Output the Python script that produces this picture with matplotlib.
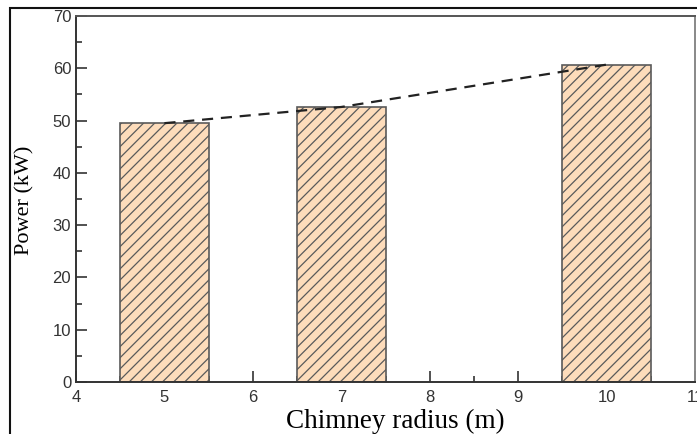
import matplotlib
matplotlib.use("Agg")
import matplotlib.pyplot as plt
from matplotlib.patches import Rectangle
from matplotlib.ticker import MultipleLocator

radius = [5, 7, 10]
power = [49.5, 52.6, 60.7]
xticks = [4, 5, 6, 7, 8, 9, 10, 11]
yticks = [0, 10, 20, 30, 40, 50, 60, 70]

plt.rcParams['hatch.linewidth'] = 0.9

W, H = 697, 434
fig = plt.figure(figsize=(W / 100, H / 100), dpi=100)
ax = fig.add_axes([76 / W, (H - 382) / H, 619 / W, 366 / H])

ax.bar(radius, power, width=1.0, color='#FDDCBB', edgecolor='#5a5a5a',
       linewidth=1.2, hatch='///', zorder=2)
ax.plot(radius, power, linestyle=(0, (5, 3.5)), color='#222222', linewidth=1.6, zorder=3)

ax.set_xlim(4, 11)
ax.set_ylim(0, 70)
ax.set_xticks(xticks)
ax.set_yticks(yticks)
ax.xaxis.set_minor_locator(MultipleLocator(0.5))
ax.yaxis.set_minor_locator(MultipleLocator(5))
ax.tick_params(which='both', direction='in', top=False, right=False,
               color='#333333', width=1.2, labelcolor='#333333',
               labelsize=12, labelfontfamily='Liberation Sans')
ax.tick_params(which='major', length=8)
ax.tick_params(which='minor', length=4)
ax.tick_params(axis='x', pad=6)
for s in ax.spines.values():
    s.set_color('#333333')
    s.set_linewidth(1.4)
ax.spines['right'].set_color('#888888')
ax.spines['top'].set_color('#555555')

ax.set_xlabel('Chimney radius (m)', family='Liberation Serif', fontsize=19.5, va='center')
ax.xaxis.set_label_coords((395 - 76) / 619, (382 - 421) / 366)
ax.set_ylabel('Power (kW)', family='Liberation Serif', fontsize=16, va='center')
ax.yaxis.set_label_coords((25 - 76) / 619, (382 - 200) / 366)

# outer frame of the screenshot
fig.add_artist(Rectangle((10 / W, -0.1), (W + 20) / W, 1.1 - 8 / H,
                         transform=fig.transFigure, fill=False,
                         edgecolor='#111111', linewidth=1.5, clip_on=False))

fig.savefig('out.png', dpi=100)
